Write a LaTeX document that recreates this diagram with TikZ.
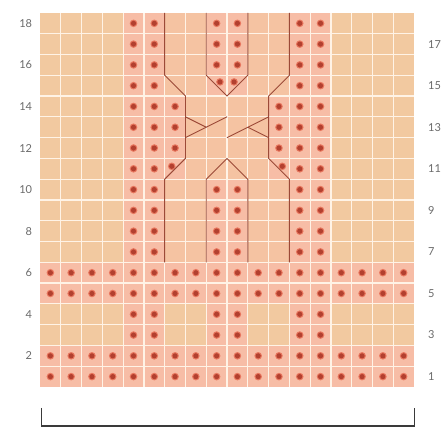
\documentclass[tikz,border=0pt]{standalone}
\usepackage{fontspec}
\setmainfont{Lato}
\definecolor{tancell}{HTML}{F2C9A0}
\definecolor{panelcell}{HTML}{F5C3A2}
\definecolor{pinkcell}{HTML}{F7BDA6}
\definecolor{gridc}{HTML}{FFF3E6}
\definecolor{dotc}{HTML}{B3402F}
\definecolor{haloc}{HTML}{E8775F}
\definecolor{cablec}{HTML}{9C4A38}
\definecolor{numc}{HTML}{6A6A6A}
\definecolor{brackc}{HTML}{3A3A3A}
\tikzset{
  lab/.style={text=numc, font=\fontsize{11}{13}\selectfont, inner sep=0pt},
  cable/.style={draw=cablec, line width=0.9pt, line join=round},
  gridline/.style={draw=gridc, line width=1.2pt},
  bracket/.style={draw=brackc, line width=1.4pt}
}
\newcommand{\pcell}[2]{\fill[pinkcell] (#1-1,#2-1) rectangle (#1,#2);}
\newcommand{\kdot}[2]{\fill[haloc] (#1,#2) circle (3.8pt); \fill[dotc] (#1,#2) circle (2.6pt);}
\begin{document}
\begin{tikzpicture}[x=1pt,y=1pt]
\useasboundingbox (0,0) rectangle (444,428);
\begin{scope}[shift={(40pt,41pt)}, x=20.78pt, y=20.78pt]
  % background
  \fill[tancell] (0,0) rectangle (18,18);
  \fill[panelcell] (4,6) rectangle (14,18);
  % pink cells
  \foreach \r in {1,2,5,6} { \foreach \c in {1,...,18} { \pcell{\c}{\r} } }
  \foreach \r in {3,4,7,8,9,10,15,16,17,18} { \foreach \c in {5,6,9,10,13,14} { \pcell{\c}{\r} } }
  \foreach \r in {11,12,13,14} { \foreach \c in {5,6,7,12,13,14} { \pcell{\c}{\r} } }
  % grid
  \foreach \i in {1,...,17} { \path[gridline] (\i,0) -- (\i,18); \path[gridline] (0,\i) -- (18,\i); }
  % dots
  \foreach \r in {1,2,5,6} { \foreach \c in {1,...,18} { \kdot{\c-0.5}{\r-0.5} } }
  \foreach \r in {3,4,7,8,9,10,16,17,18} { \foreach \c in {5,6,9,10,13,14} { \kdot{\c-0.5}{\r-0.5} } }
  \foreach \r in {12,13,14} { \foreach \c in {5,6,7,12,13,14} { \kdot{\c-0.5}{\r-0.5} } }
  \foreach \c in {5,6,13,14} { \kdot{\c-0.5}{10.5} \kdot{\c-0.5}{14.5} }
  \kdot{6.34}{10.62}
  \kdot{11.66}{10.62}
  \kdot{8.66}{14.68}
  \kdot{9.34}{14.68}
  % cable outlines
  \path[cable] (6,6) -- (6,10) -- (7,11) -- (7,14) -- (6,15) -- (6,18);
  \path[cable] (12,6) -- (12,10) -- (11,11) -- (11,14) -- (12,15) -- (12,18);
  \path[cable] (8,6) -- (8,10) -- (9,11) -- (10,10) -- (10,6);
  \path[cable] (8,18) -- (8,15) -- (9,14) -- (10,15) -- (10,18);
  \path[cable] (7,12) -- (9,13);
  \path[cable] (9,12) -- (11,13);
  \path[cable] (7,13) -- (8,12.5);
  \path[cable] (10,12.5) -- (11,12);
  % row numbers
  \foreach \r in {2,4,...,18} { \node[lab, anchor=east] (L\r) at (-0.37,\r-0.5) {\r}; }
  \foreach \r in {1,3,...,17} { \node[lab, anchor=west] (R\r) at (18.67,\r-0.5) {\r}; }
\end{scope}
% bracket
\coordinate (bl) at (41.5,20);
\coordinate (br) at (414.5,20);
\path[bracket] (bl) -- (41.5,2) -- (414.5,2) -- (br);
\end{tikzpicture}
\end{document}
